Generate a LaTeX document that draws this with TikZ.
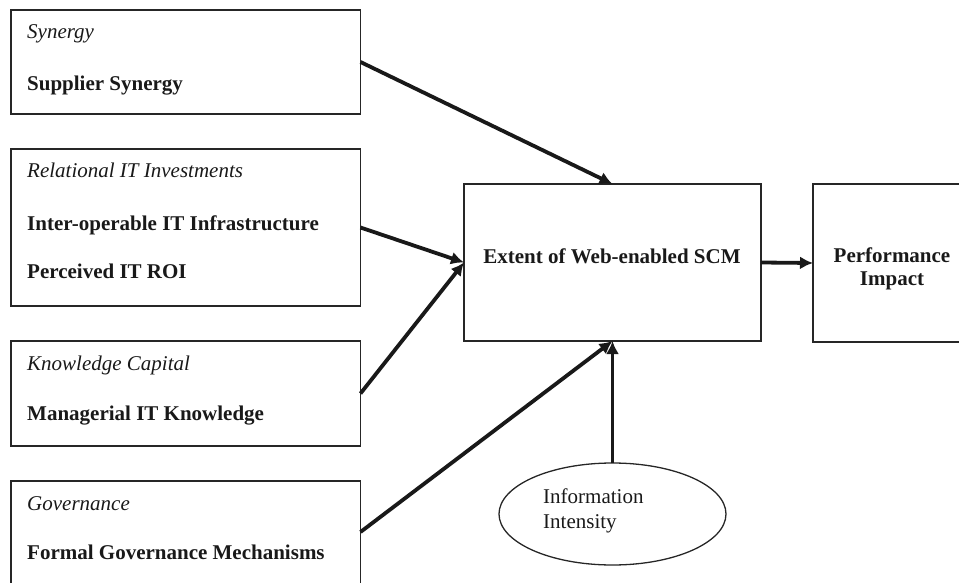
\documentclass[tikz,border=0pt]{standalone}
\usepackage{fontspec}
\setmainfont{Liberation Serif}
\usetikzlibrary{arrows.meta,shapes.geometric}

\begin{document}
\begin{tikzpicture}[x=1pt,y=-1pt,
    box/.style={draw=black!85,line width=1.3pt,rectangle,outer sep=0pt,inner sep=0pt,anchor=north west},
    catname/.style={anchor=base west,inner sep=0pt,font=\fontsize{21}{25}\selectfont\itshape,black!90},
    varname/.style={anchor=base west,inner sep=0pt,font=\fontsize{21}{25}\selectfont\bfseries,black!90},
    link/.style={-{Latex[length=13pt,width=13pt]},line width=3.8pt,black!90}]
    \clip (0,0) rectangle (959,583);
    \node[box,minimum width=349.5pt,minimum height=104pt] (syn) at (11,10) {};
    \node[box,minimum width=349.5pt,minimum height=157pt] (rel) at (11,149) {};
    \node[box,minimum width=349.5pt,minimum height=105pt] (know) at (11,341) {};
    \node[box,minimum width=349.5pt,minimum height=112pt] (gov) at (11,481) {};
    \node[box,minimum width=297pt,minimum height=157pt] (scm) at (464,184) {};
    \node[box,minimum width=160pt,minimum height=158pt] (perf) at (813,184) {};
    \node[draw=black!85,line width=1.3pt,ellipse,outer sep=0pt,minimum width=227pt,minimum height=102pt] (intens) at (612.5,514) {};

    \node[catname] (syncat) at ([shift={(16,29)}]syn.north west) {Synergy};
    \node[varname] (supsyn) at ([shift={(16,81)}]syn.north west) {Supplier Synergy};
    \node[catname] (relcat) at ([shift={(16,29)}]rel.north west) {Relational IT Investments};
    \node[varname] (itinfra) at ([shift={(16,81)}]rel.north west) {Inter-operable IT Infrastructure};
    \node[varname] (itroi) at ([shift={(16,129)}]rel.north west) {Perceived IT ROI};
    \node[catname] (knowcat) at ([shift={(16,29)}]know.north west) {Knowledge Capital};
    \node[varname] (itknow) at ([shift={(16,79)}]know.north west) {Managerial IT Knowledge};
    \node[catname] (govcat) at ([shift={(16,29)}]gov.north west) {Governance};
    \node[varname] (govmech) at ([shift={(16,78)}]gov.north west) {Formal Governance Mechanisms};

    \node[anchor=base,inner sep=0pt,font=\fontsize{21}{25}\selectfont\bfseries,black!90] (scmtext) at (612,263) {Extent of Web-enabled SCM};
    \node[inner sep=0pt,align=center,font=\fontsize{21}{23}\selectfont\bfseries,black!90] (perftext) at (892,268.5) {Performance\\Impact};
    \node[anchor=west,inner sep=0pt,align=left,font=\fontsize{21}{25}\selectfont,black!90] (intenstext) at (543,510.6) {Information\\Intensity};

    \draw[link] (syn.east) -- (scm.north);
    \draw[link] (rel.east) -- (scm.west);
    \draw[link] (know.east) -- (scm.west);
    \draw[link] ([yshift=5pt]gov.east) -- (scm.south);
    \draw[link] (intens.north) -- (scm.south);
    \draw[link] (scm.east) -- (perf.west);
\end{tikzpicture}
\end{document}
